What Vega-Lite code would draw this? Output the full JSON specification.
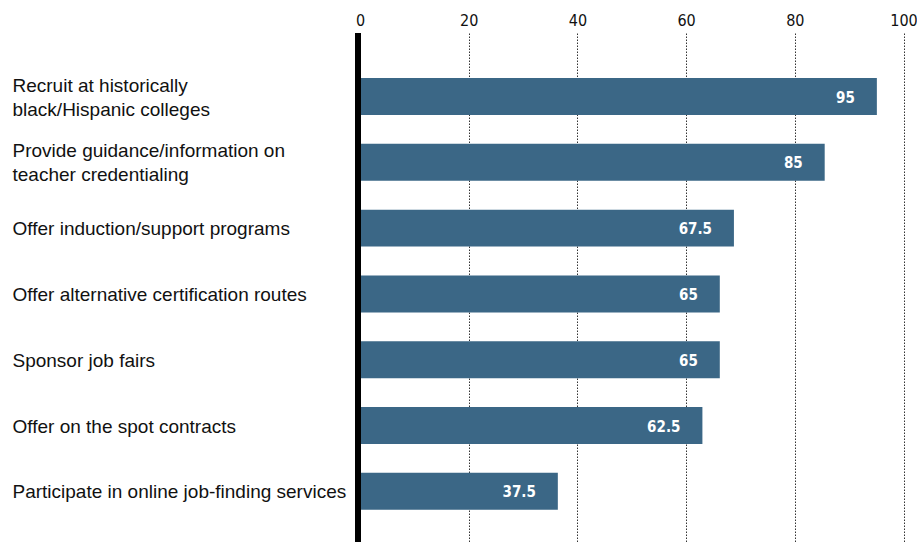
{
  "$schema": "https://vega.github.io/schema/vega-lite/v6.json",
  "autosize": {"type": "none"},
  "padding": {"left": 360, "top": 33, "right": 13, "bottom": 0},
  "width": 543.5,
  "height": 509,
  "background": "white",
  "config": {"view": {"stroke": null}},
  "data": {"values": [
    {"item": "Recruit at historically|black/Hispanic colleges", "length": 95.1, "label": "95"},
    {"item": "Provide guidance/information on|teacher credentialing", "length": 85.5, "label": "85"},
    {"item": "Offer induction/support programs", "length": 68.8, "label": "67.5"},
    {"item": "Offer alternative certification routes", "length": 66.2, "label": "65"},
    {"item": "Sponsor job fairs", "length": 66.2, "label": "65"},
    {"item": "Offer on the spot contracts", "length": 63.0, "label": "62.5"},
    {"item": "Participate in online job-finding services", "length": 36.4, "label": "37.5"}
  ]},
  "layer": [
    {
      "mark": {"type": "bar", "color": "#3b6786"},
      "encoding": {
        "y": {
          "field": "item", "type": "nominal", "sort": null, "title": null,
          "scale": {"paddingInner": 0.438, "paddingOuter": 0.587, "align": 0.583},
          "axis": {
            "orient": "left", "domain": false, "ticks": false, "tickSize": 0, "grid": false,
            "labelAlign": "left", "labelPadding": 348, "labelLimit": 0,
            "labelExpr": "split(datum.label, '|')",
            "labelLineHeight": 24, "labelBaseline": "middle",
            "labelOffset": {"condition": {"test": "indexof(datum.value, '|') >= 0", "value": -11}, "value": 1},
            "labelFont": "Liberation Sans", "labelFontSize": 19, "labelColor": "#111111"
          }
        },
        "x": {
          "field": "length", "type": "quantitative", "title": null,
          "scale": {"domain": [0, 100], "nice": false},
          "axis": {
            "orient": "top", "values": [0, 20, 40, 60, 80, 100], "domain": false,
            "ticks": false, "tickSize": 0, "labelPadding": 5,
            "labelFont": "DejaVu Sans Condensed", "labelFontSize": 16, "labelColor": "#111111",
            "labelFlush": false,
            "grid": true, "gridColor": "#333333", "gridDash": [1.5, 1.5], "gridWidth": 1
          }
        }
      }
    },
    {
      "mark": {"type": "text", "align": "right", "baseline": "middle", "dx": -22, "dy": 1,
               "color": "white", "font": "DejaVu Sans Condensed", "fontWeight": "bold", "fontSize": 15},
      "encoding": {
        "y": {"field": "item", "type": "nominal", "sort": null},
        "x": {"field": "length", "type": "quantitative"},
        "text": {"field": "label", "type": "nominal"}
      }
    },
    {
      "mark": {"type": "rule", "color": "black", "strokeWidth": 5.5, "xOffset": -2},
      "encoding": {"x": {"datum": 0, "type": "quantitative"}}
    }
  ]
}
